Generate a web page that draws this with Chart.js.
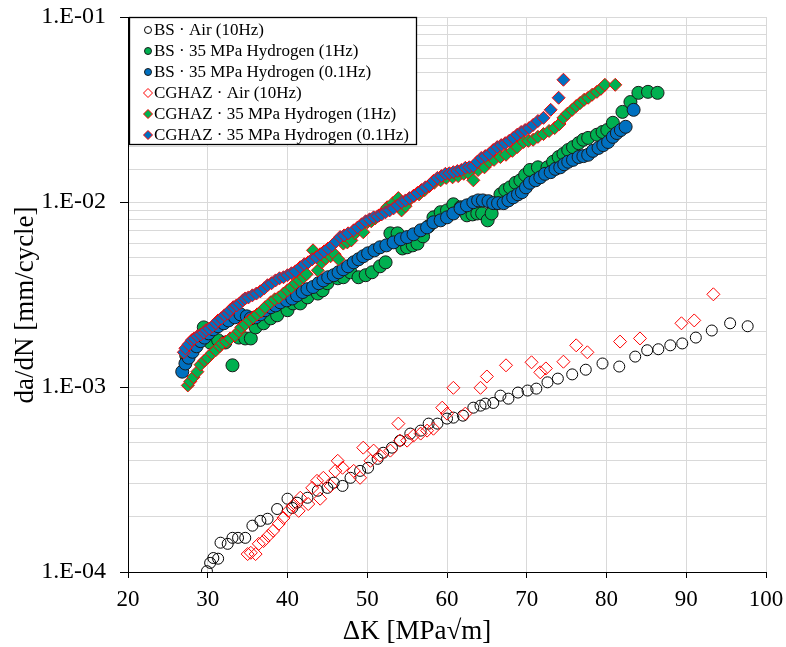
<!DOCTYPE html>
<html>
<head>
<meta charset="utf-8">
<script src="https://cdn.jsdelivr.net/npm/chart.js@4.4.1/dist/chart.umd.min.js"></script>
<style>
  html, body { margin: 0; padding: 0; background: #fff; }
  #wrap { width: 786px; height: 647px; }
</style>
</head>
<body>
<div id="wrap"><canvas id="fcgChart" width="786" height="647"></canvas></div>
<script>
// ΔK [MPa√m] and da/dN [mm/cycle]
const bsAirK = [29.9, 30.3, 30.7, 31.3, 31.6, 32.5, 33.1, 33.8, 34.7, 35.6, 36.6, 37.5, 38.7, 40.0, 40.6, 41.2, 42.5, 43.8, 45.0, 45.8, 46.9, 47.9, 49.1, 50.1, 51.3, 52.0, 53.1, 54.1, 55.4, 56.7, 57.7, 58.8, 60.0, 60.8, 62.0, 63.3, 64.2, 64.8, 65.8, 66.7, 67.7, 68.9, 70.1, 71.2, 72.6, 73.9, 75.7, 77.4, 79.5, 81.6, 83.6, 85.1, 86.5, 88.0, 89.5, 91.2, 93.2, 95.5, 97.7];
const bsAirRate = [1.01e-4, 1.12e-4, 1.19e-4, 1.18e-4, 1.44e-4, 1.42e-4, 1.53e-4, 1.53e-4, 1.53e-4, 1.78e-4, 1.89e-4, 1.94e-4, 2.19e-4, 2.49e-4, 2.22e-4, 2.37e-4, 2.52e-4, 2.75e-4, 2.85e-4, 3.04e-4, 2.92e-4, 3.23e-4, 3.52e-4, 3.66e-4, 4.09e-4, 4.41e-4, 4.70e-4, 5.13e-4, 5.60e-4, 5.81e-4, 6.34e-4, 6.34e-4, 6.75e-4, 6.83e-4, 7.0e-4, 7.73e-4, 7.93e-4, 8.13e-4, 8.2e-4, 8.98e-4, 8.65e-4, 9.33e-4, 9.57e-4, 9.80e-4, 1.06e-3, 1.11e-3, 1.17e-3, 1.24e-3, 1.34e-3, 1.29e-3, 1.46e-3, 1.58e-3, 1.60e-3, 1.68e-3, 1.72e-3, 1.85e-3, 2.02e-3, 2.21e-3, 2.13e-3];

const bsH2FastK = [27.3, 28.0, 29.5, 30.3, 31.3, 32.2, 33.1, 33.9, 34.7, 35.4, 36.0, 37.0, 37.9, 38.7, 40.0, 40.7, 41.6, 42.5, 43.8, 44.4, 45.0, 46.3, 47.0, 47.9, 48.9, 49.8, 50.6, 51.6, 52.3, 52.9, 53.8, 54.4, 55.0, 55.7, 56.3, 57.0, 57.7, 58.3, 59.2, 60.0, 60.8, 61.7, 62.5, 63.2, 63.8, 64.4, 65.1, 65.6, 66.2, 66.7, 67.3, 67.9, 68.6, 69.2, 69.8, 70.4, 71.4, 72.6, 73.3, 74.0, 74.6, 75.2, 75.8, 76.5, 77.1, 77.7, 78.8, 79.5, 80.1, 80.8, 82.0, 83.0, 84.0, 85.2, 86.4];
const bsH2FastRate = [1.48e-3, 1.58e-3, 2.10e-3, 1.74e-3, 1.79e-3, 1.74e-3, 1.31e-3, 1.85e-3, 1.83e-3, 1.83e-3, 2.10e-3, 2.21e-3, 2.35e-3, 2.44e-3, 2.60e-3, 2.83e-3, 2.83e-3, 3.05e-3, 3.20e-3, 3.33e-3, 3.64e-3, 3.87e-3, 3.92e-3, 4.17e-3, 3.92e-3, 4.02e-3, 4.17e-3, 4.49e-3, 4.72e-3, 6.77e-3, 6.77e-3, 5.61e-3, 5.69e-3, 5.83e-3, 5.96e-3, 6.52e-3, 7.39e-3, 8.26e-3, 8.81e-3, 9.01e-3, 9.72e-3, 9.37e-3, 8.47e-3, 8.57e-3, 8.67e-3, 8.67e-3, 7.96e-3, 8.67e-3, 9.86e-3, 1.10e-2, 1.16e-2, 1.20e-2, 1.27e-2, 1.31e-2, 1.40e-2, 1.49e-2, 1.54e-2, 1.54e-2, 1.65e-2, 1.75e-2, 1.82e-2, 1.91e-2, 1.98e-2, 2.08e-2, 2.17e-2, 2.22e-2, 2.31e-2, 2.39e-2, 2.45e-2, 2.68e-2, 3.07e-2, 3.47e-2, 3.89e-2, 3.94e-2, 3.89e-2];

const bsH2SlowK = [26.8, 27.2, 27.6, 28.1, 28.6, 29.1, 29.6, 30.1, 30.7, 31.3, 32.0, 32.6, 33.4, 34.1, 34.9, 35.4, 36.0, 36.6, 37.2, 37.9, 38.5, 39.1, 39.9, 40.6, 41.2, 41.9, 42.5, 43.2, 43.9, 44.5, 45.1, 45.8, 46.4, 47.0, 47.6, 48.3, 48.9, 49.5, 50.1, 50.9, 51.6, 52.4, 53.3, 54.2, 55.0, 55.8, 56.7, 57.5, 58.3, 59.2, 60.0, 60.8, 61.7, 62.5, 63.3, 63.9, 64.5, 65.2, 65.8, 66.4, 67.1, 67.7, 68.3, 68.9, 69.4, 69.9, 70.4, 71.1, 71.7, 72.3, 73.0, 73.6, 74.2, 74.7, 75.2, 75.8, 76.5, 77.1, 77.7, 78.3, 79.0, 79.6, 80.2, 80.8, 81.3, 81.8, 82.4, 83.4];
const bsH2SlowRate = [1.21e-3, 1.34e-3, 1.44e-3, 1.55e-3, 1.66e-3, 1.77e-3, 1.85e-3, 1.95e-3, 2.05e-3, 2.13e-3, 2.21e-3, 2.29e-3, 2.38e-3, 2.47e-3, 2.41e-3, 2.35e-3, 2.38e-3, 2.47e-3, 2.60e-3, 2.70e-3, 2.76e-3, 2.87e-3, 2.94e-3, 3.01e-3, 3.13e-3, 3.26e-3, 3.38e-3, 3.47e-3, 3.64e-3, 3.77e-3, 3.92e-3, 4.02e-3, 4.17e-3, 4.33e-3, 4.49e-3, 4.72e-3, 4.90e-3, 5.09e-3, 5.28e-3, 5.48e-3, 5.69e-3, 5.83e-3, 6.05e-3, 6.29e-3, 6.46e-3, 6.69e-3, 7.03e-3, 7.29e-3, 7.77e-3, 7.96e-3, 8.26e-3, 8.67e-3, 9.24e-3, 9.59e-3, 9.97e-3, 1.02e-2, 1.02e-2, 1.01e-2, 9.86e-3, 9.86e-3, 9.86e-3, 1.02e-2, 1.06e-2, 1.10e-2, 1.13e-2, 1.20e-2, 1.27e-2, 1.31e-2, 1.36e-2, 1.42e-2, 1.45e-2, 1.51e-2, 1.54e-2, 1.60e-2, 1.65e-2, 1.69e-2, 1.75e-2, 1.77e-2, 1.80e-2, 1.89e-2, 1.96e-2, 2.03e-2, 2.11e-2, 2.25e-2, 2.36e-2, 2.45e-2, 2.55e-2, 3.15e-2];

const hazAirK = [35.0, 35.4, 36.0, 36.4, 37.0, 37.6, 38.2, 38.9, 39.5, 40.1, 40.7, 41.4, 41.6, 42.6, 43.1, 43.7, 44.1, 44.5, 45.4, 46.0, 46.3, 46.9, 48.3, 49.1, 49.5, 50.4, 50.8, 51.6, 52.9, 53.9, 54.1, 55.0, 55.8, 56.7, 57.5, 58.3, 59.4, 60.0, 60.8, 62.3, 64.2, 65.0, 67.4, 70.6, 71.7, 72.4, 74.6, 76.2, 77.6, 81.7, 84.2, 89.4, 91.0, 93.4];
const hazAirRate = [1.25e-4, 1.27e-4, 1.25e-4, 1.42e-4, 1.47e-4, 1.57e-4, 1.67e-4, 1.82e-4, 1.96e-4, 2.14e-4, 2.28e-4, 2.14e-4, 2.52e-4, 2.33e-4, 2.85e-4, 3.11e-4, 2.49e-4, 3.23e-4, 2.92e-4, 3.52e-4, 3.99e-4, 3.66e-4, 3.52e-4, 3.23e-4, 4.70e-4, 3.99e-4, 4.53e-4, 4.25e-4, 4.53e-4, 6.34e-4, 5.13e-4, 5.13e-4, 5.46e-4, 5.60e-4, 5.81e-4, 5.95e-4, 7.73e-4, 7.18e-4, 9.9e-4, 7.18e-4, 9.9e-4, 1.14e-3, 1.31e-3, 1.36e-3, 1.20e-3, 1.26e-3, 1.37e-3, 1.68e-3, 1.54e-3, 1.76e-3, 1.83e-3, 2.21e-3, 2.29e-3, 3.17e-3];

const hazH2FastK = [27.5, 27.8, 28.2, 28.7, 29.1, 29.6, 30.0, 30.5, 31.0, 31.5, 31.8, 32.3, 32.8, 33.4, 33.9, 34.2, 34.7, 35.2, 35.7, 36.2, 36.7, 37.2, 37.9, 38.4, 38.9, 39.5, 40.0, 40.5, 41.0, 41.5, 42.0, 42.4, 43.2, 43.8, 44.3, 44.8, 45.4, 45.9, 46.4, 47.0, 47.5, 48.0, 48.5, 49.0, 49.5, 50.0, 50.5, 51.0, 51.5, 52.0, 52.5, 53.2, 53.9, 54.3, 54.8, 55.4, 55.9, 56.5, 57.2, 57.8, 58.4, 59.2, 59.9, 60.7, 61.4, 62.1, 62.7, 63.3, 63.9, 64.7, 65.3, 65.9, 66.7, 67.4, 68.2, 68.8, 69.6, 70.2, 70.8, 71.4, 72.1, 72.8, 73.5, 74.1, 74.6, 75.1, 75.7, 76.2, 76.7, 77.2, 77.7, 78.2, 78.8, 79.3, 79.8, 81.1];
const hazH2FastRate = [1.02e-3, 1.07e-3, 1.13e-3, 1.21e-3, 1.32e-3, 1.39e-3, 1.44e-3, 1.52e-3, 1.58e-3, 1.66e-3, 1.72e-3, 1.76e-3, 1.83e-3, 1.90e-3, 2.00e-3, 2.10e-3, 2.18e-3, 2.29e-3, 2.38e-3, 2.47e-3, 2.56e-3, 2.70e-3, 2.87e-3, 2.98e-3, 3.05e-3, 3.20e-3, 3.33e-3, 3.46e-3, 3.64e-3, 3.77e-3, 3.92e-3, 4.07e-3, 5.48e-3, 4.27e-3, 4.72e-3, 4.96e-3, 5.09e-3, 5.22e-3, 4.90e-3, 5.96e-3, 6.05e-3, 6.20e-3, 6.77e-3, 7.21e-3, 6.86e-3, 7.77e-3, 7.87e-3, 8.16e-3, 8.47e-3, 8.81e-3, 9.37e-3, 9.86e-3, 1.05e-2, 9.01e-3, 9.49e-3, 1.04e-2, 1.08e-2, 1.10e-2, 1.16e-2, 1.22e-2, 1.27e-2, 1.31e-2, 1.35e-2, 1.36e-2, 1.38e-2, 1.42e-2, 1.43e-2, 1.31e-2, 1.49e-2, 1.54e-2, 1.65e-2, 1.69e-2, 1.75e-2, 1.80e-2, 1.89e-2, 1.98e-2, 2.11e-2, 2.14e-2, 2.17e-2, 2.25e-2, 2.33e-2, 2.42e-2, 2.51e-2, 2.64e-2, 2.85e-2, 3.00e-2, 3.15e-2, 3.30e-2, 3.43e-2, 3.57e-2, 3.66e-2, 3.80e-2, 3.94e-2, 4.09e-2, 4.30e-2, 4.30e-2];

const hazH2SlowK = [27.0, 27.2, 27.6, 28.0, 28.3, 28.7, 29.1, 29.5, 29.8, 30.2, 30.6, 31.0, 31.3, 31.7, 32.1, 32.5, 32.8, 33.2, 33.6, 34.0, 34.4, 34.7, 35.1, 35.6, 36.1, 36.6, 37.1, 37.5, 38.0, 38.5, 39.0, 39.5, 40.0, 40.5, 41.0, 41.6, 42.1, 42.6, 43.1, 43.6, 44.1, 44.6, 45.1, 45.6, 46.1, 46.6, 47.1, 47.6, 48.3, 48.8, 49.3, 49.8, 50.3, 50.8, 51.3, 51.8, 52.3, 52.8, 53.3, 53.8, 54.3, 54.8, 55.3, 55.8, 56.3, 56.8, 57.3, 57.8, 58.3, 58.8, 59.3, 59.8, 60.3, 60.8, 61.3, 61.8, 62.3, 62.8, 63.3, 63.8, 64.3, 64.8, 65.3, 65.8, 66.3, 66.8, 67.3, 67.8, 68.3, 68.8, 69.3, 69.8, 70.3, 70.8, 71.4, 72.1, 73.0, 74.0, 74.6];
const hazH2SlowRate = [1.54e-3, 1.62e-3, 1.70e-3, 1.79e-3, 1.83e-3, 1.88e-3, 1.92e-3, 1.97e-3, 2.03e-3, 2.07e-3, 2.13e-3, 2.21e-3, 2.29e-3, 2.35e-3, 2.44e-3, 2.50e-3, 2.60e-3, 2.70e-3, 2.76e-3, 2.83e-3, 2.94e-3, 3.01e-3, 3.05e-3, 3.13e-3, 3.20e-3, 3.29e-3, 3.42e-3, 3.55e-3, 3.64e-3, 3.77e-3, 3.87e-3, 3.92e-3, 4.02e-3, 4.12e-3, 4.22e-3, 4.44e-3, 4.61e-3, 4.72e-3, 4.90e-3, 5.03e-3, 5.22e-3, 5.41e-3, 5.61e-3, 5.83e-3, 6.12e-3, 6.46e-3, 6.60e-3, 6.77e-3, 7.03e-3, 7.29e-3, 7.58e-3, 7.87e-3, 8.06e-3, 8.26e-3, 8.37e-3, 8.57e-3, 8.81e-3, 9.01e-3, 9.24e-3, 9.59e-3, 9.97e-3, 1.02e-2, 1.05e-2, 1.08e-2, 1.12e-2, 1.16e-2, 1.20e-2, 1.23e-2, 1.30e-2, 1.35e-2, 1.38e-2, 1.42e-2, 1.43e-2, 1.45e-2, 1.47e-2, 1.49e-2, 1.53e-2, 1.54e-2, 1.56e-2, 1.65e-2, 1.73e-2, 1.77e-2, 1.82e-2, 1.91e-2, 1.98e-2, 2.03e-2, 2.08e-2, 2.14e-2, 2.22e-2, 2.31e-2, 2.39e-2, 2.45e-2, 2.51e-2, 2.61e-2, 2.74e-2, 2.85e-2, 3.15e-2, 3.66e-2, 4.58e-2];

const seriesLabels = [
  "BS · Air (10Hz)",
  "BS · 35 MPa Hydrogen (1Hz)",
  "BS · 35 MPa Hydrogen (0.1Hz)",
  "CGHAZ · Air (10Hz)",
  "CGHAZ · 35 MPa Hydrogen (1Hz)",
  "CGHAZ · 35 MPa Hydrogen (0.1Hz)"
];
const yDecades = [1e-4, 1e-3, 1e-2, 1e-1];
const yTickLabels = ["1.E-04", "1.E-03", "1.E-02", "1.E-01"];

const SERIF = '"Liberation Serif", "Times New Roman", serif';
const GREEN = "#00b050";
const BLUE = "#0070c0";
const RED = "#ff0000";

function toPoints(ks, rates) {
  return ks.map((k, i) => ({ x: k, y: rates[i] }));
}

function isDecade(v) {
  return Math.abs(Math.log10(v) - Math.round(Math.log10(v))) < 1e-6;
}

const datasets = [
  { data: toPoints(bsAirK, bsAirRate), pointStyle: "circle", pointRadius: 5.5, backgroundColor: "rgba(0,0,0,0)", borderColor: "#000", borderWidth: 1 },
  { data: toPoints(bsH2FastK, bsH2FastRate), pointStyle: "circle", pointRadius: 6.5, backgroundColor: GREEN, borderColor: "#1a1a1a", borderWidth: 1 },
  { data: toPoints(bsH2SlowK, bsH2SlowRate), pointStyle: "circle", pointRadius: 6.5, backgroundColor: BLUE, borderColor: "#1a1a1a", borderWidth: 1 },
  { data: toPoints(hazAirK, hazAirRate), pointStyle: "rectRot", pointRadius: 6.5, backgroundColor: "rgba(0,0,0,0)", borderColor: RED, borderWidth: 1 },
  { data: toPoints(hazH2FastK, hazH2FastRate), pointStyle: "rectRot", pointRadius: 6.5, backgroundColor: GREEN, borderColor: RED, borderWidth: 1 },
  { data: toPoints(hazH2SlowK, hazH2SlowRate), pointStyle: "rectRot", pointRadius: 6.5, backgroundColor: BLUE, borderColor: RED, borderWidth: 1 }
].map((ds, i) => ({ ...ds, label: seriesLabels[i], order: 5 - i, pointHoverRadius: ds.pointRadius }));

// legend box drawn inside the plot, top left
const boxLegend = {
  id: "boxLegend",
  afterDatasetsDraw(chart) {
    const { ctx, chartArea } = chart;
    const x0 = chartArea.left + 1;
    const y0 = chartArea.top;
    ctx.save();
    ctx.fillStyle = "#fff";
    ctx.fillRect(x0, y0, 288, 128);
    ctx.strokeStyle = "#000";
    ctx.lineWidth = 1.3;
    ctx.strokeRect(x0 + 0.5, y0 + 0.5, 287, 127);
    ctx.font = "17px " + SERIF;
    ctx.textBaseline = "middle";
    chart.data.datasets.forEach((ds, i) => {
      const y = y0 + 13 + i * 21;
      const mx = x0 + 19;
      ctx.beginPath();
      if (ds.pointStyle === "circle") {
        ctx.arc(mx, y, 3.5, 0, Math.PI * 2);
      } else {
        ctx.moveTo(mx - 4.5, y);
        ctx.lineTo(mx, y - 4.5);
        ctx.lineTo(mx + 4.5, y);
        ctx.lineTo(mx, y + 4.5);
        ctx.closePath();
      }
      ctx.fillStyle = ds.backgroundColor;
      ctx.fill();
      ctx.lineWidth = 1;
      ctx.strokeStyle = ds.borderColor;
      ctx.stroke();
      ctx.fillStyle = "#000";
      ctx.fillText(ds.label, x0 + 25, y + 1);
    });
    ctx.restore();
  }
};

// axis titles placed like the original
const axisTitles = {
  id: "axisTitles",
  afterDraw(chart) {
    const { ctx } = chart;
    ctx.save();
    ctx.fillStyle = "#000";
    ctx.font = "27px " + SERIF;
    ctx.textAlign = "center";
    ctx.textBaseline = "middle";
    ctx.fillText("ΔK [MPa√m]", 417, 632);
    ctx.translate(26, 305);
    ctx.rotate(-Math.PI / 2);
    ctx.fillText("da/dN [mm/cycle]", 0, 0);
    ctx.restore();
  }
};

new Chart(document.getElementById("fcgChart"), {
  type: "scatter",
  data: { datasets },
  plugins: [boxLegend, axisTitles],
  options: {
    responsive: false,
    animation: false,
    devicePixelRatio: 1,
    layout: { padding: { left: 0, top: 17, right: 20, bottom: 0 } },
    plugins: {
      legend: { display: false },
      tooltip: { enabled: false }
    },
    scales: {
      x: {
        type: "linear",
        min: 20,
        max: 100,
        afterFit: (scale) => {
          scale.height = 75;
          scale.paddingLeft = 0;
          scale.paddingRight = 0;
        },
        ticks: {
          stepSize: 10,
          color: "#000",
          padding: 8,
          font: { family: SERIF, size: 23 }
        },
        grid: { color: "#d9d9d9", lineWidth: 1, tickLength: 6, tickColor: "#000" },
        border: { color: "#000", width: 1 }
      },
      y: {
        type: "logarithmic",
        min: 1e-4,
        max: 1e-1,
        afterFit: (scale) => {
          scale.width = 128;
          scale.paddingTop = 0;
          scale.paddingBottom = 0;
        },
        ticks: {
          autoSkip: false,
          color: "#000",
          padding: 14,
          font: { family: SERIF, size: 24 },
          callback: (value) => {
            const idx = yDecades.findIndex((d) => Math.abs(d - value) / d < 1e-6);
            return idx >= 0 ? yTickLabels[idx] : "";
          }
        },
        grid: {
          color: "#d9d9d9",
          lineWidth: 1,
          tickLength: 8,
          tickColor: (ctx) => (ctx.tick && isDecade(ctx.tick.value) ? "#000" : "rgba(0,0,0,0)")
        },
        border: { color: "#000", width: 1 }
      }
    }
  }
});
</script>
</body>
</html>
